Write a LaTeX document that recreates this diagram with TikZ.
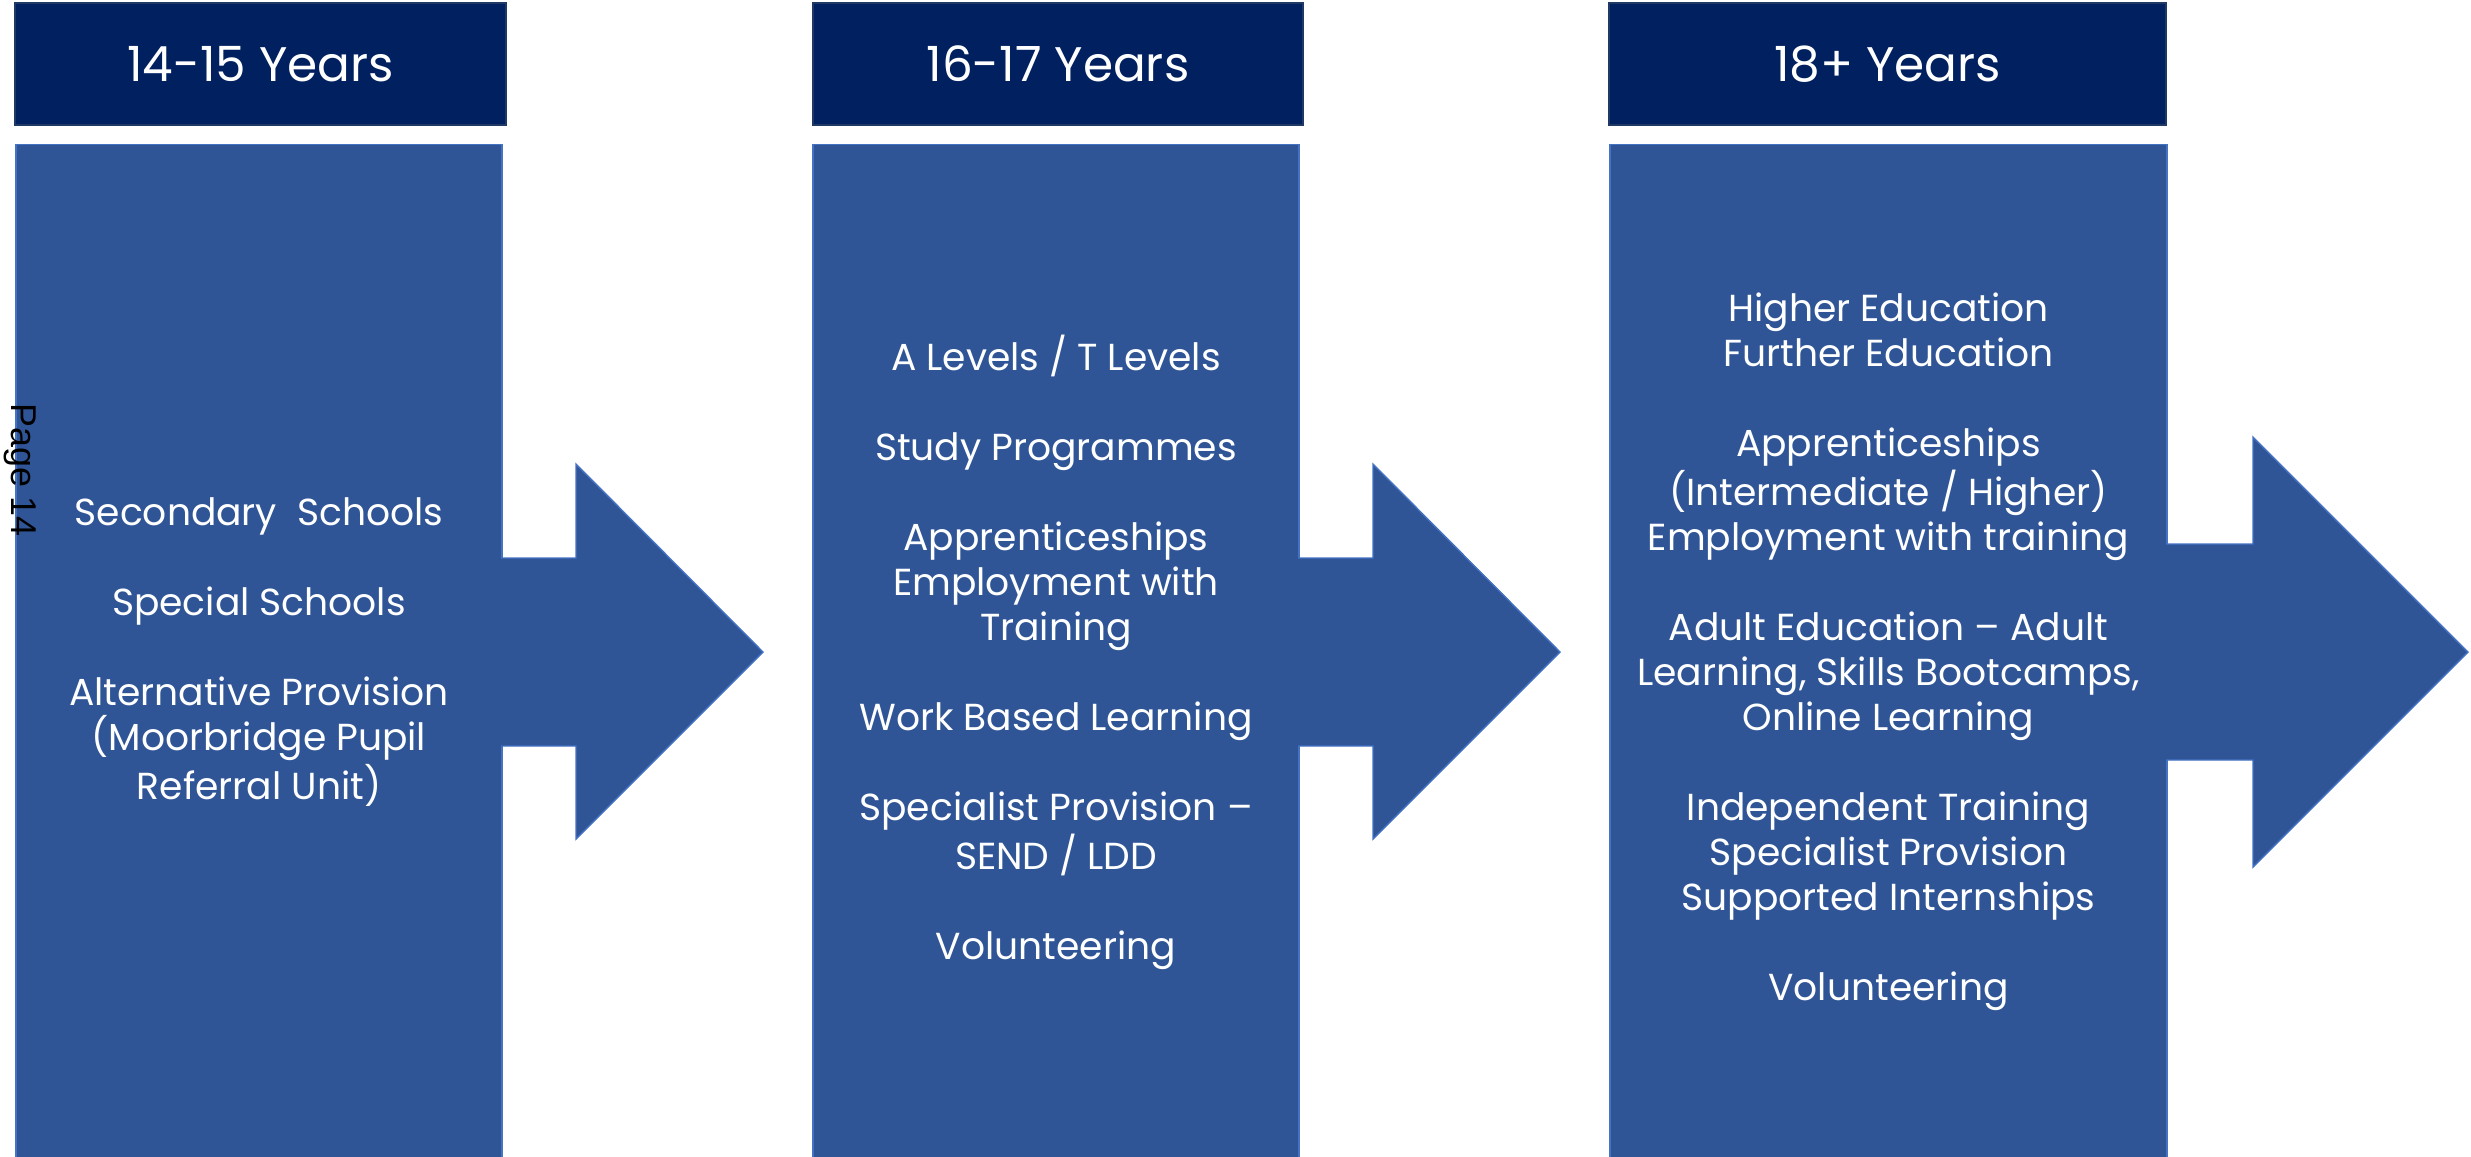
\documentclass[tikz,border=0pt]{standalone}
\usepackage{fontspec}
\setmainfont{Poppins}
\newfontfamily\pagefont{Liberation Sans}
\usetikzlibrary{positioning}
\usepackage{xcolor}

\definecolor{headblue}{HTML}{002060}
\definecolor{headedge}{HTML}{1F3864}
\definecolor{bodyblue}{HTML}{2F5597}
\definecolor{bodyedge}{HTML}{4472C4}

\tikzset{
  header/.style={draw=headedge, line width=0.5pt, fill=headblue, text=white, rectangle,
    minimum height=1.22cm, font=\fontsize{13.8}{17}\selectfont},
  panel/.style={draw=bodyedge, line width=0.4pt, fill=bodyblue, rectangle, minimum height=10.25cm},
  itemlist/.style={text=white, align=center, font=\fontsize{10.7}{12.8}\selectfont},
  bigarrow/.style={draw=bodyedge, line width=0.4pt, fill=bodyblue}
}

\begin{document}
\begin{tikzpicture}[x=0.01cm, y=-0.01cm]
      \useasboundingbox (0,0) rectangle (2471,1156);

      % Column A (14-15 years)
      \node[header, minimum width=4.91cm] (headA) at (260.5,64) {14-15 Years};
      \node[panel, minimum width=4.86cm] (bodyA) at (259,657.5) {};
      \node[itemlist] (listA) at (259,652) {Secondary\ \ Schools\\[0.45cm]
        Special Schools\\[0.45cm]
        Alternative Provision\\(Moorbridge Pupil\\Referral Unit)};

      % Column B (16-17 years)
      \node[header, minimum width=4.90cm] (headB) at (1058,64) {16-17 Years};
      \node[panel, minimum width=4.86cm] (bodyB) at (1056,657.5) {};
      \node[itemlist] (listB) at (1056,652) {A Levels / T Levels\\[0.45cm]
        Study Programmes\\[0.45cm]
        Apprenticeships\\Employment with\\Training\\[0.45cm]
        Work Based Learning\\[0.45cm]
        Specialist Provision --\\SEND / LDD\\[0.45cm]
        Volunteering};

      % Column C (18+ years)
      \node[header, minimum width=5.57cm] (headC) at (1887.5,64) {18+ Years};
      \node[panel, minimum width=5.57cm] (bodyC) at (1888.5,657.5) {};
      \node[itemlist] (listC) at (1888.5,652) {Higher Education\\Further Education\\[0.45cm]
        Apprenticeships\\(Intermediate / Higher)\\Employment with training\\[0.45cm]
        Adult Education -- Adult\\Learning, Skills Bootcamps,\\Online Learning\\[0.45cm]
        Independent Training\\Specialist Provision\\Supported Internships\\[0.45cm]
        Volunteering};

      % Block arrows out of each column
      \filldraw[bigarrow] (501,558) -- (576,558) -- (576,464) -- (763,652) -- (576,839) -- (576,746) -- (501,746);
      \filldraw[bigarrow] (1298,558) -- (1373,558) -- (1373,464) -- (1560,652) -- (1373,839) -- (1373,746) -- (1298,746);
      \filldraw[bigarrow] (2166,544) -- (2253,544) -- (2253,437) -- (2468,652) -- (2253,867) -- (2253,760) -- (2166,760);

      % Page number on the side
      \node[rotate=-90, font=\pagefont\fontsize{10.2}{12}\selectfont] (pagenum) at (20,470) {Page 14};
\end{tikzpicture}
\end{document}
